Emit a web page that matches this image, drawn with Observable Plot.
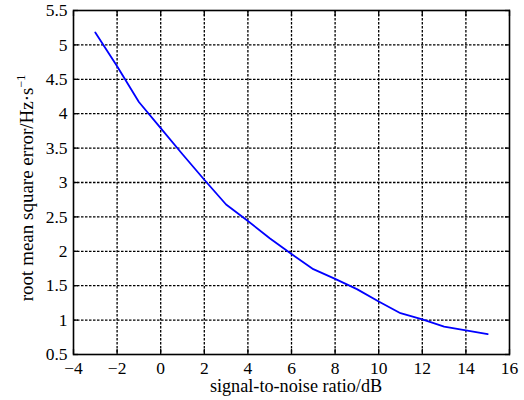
<!DOCTYPE html>
<html>
<head>
<meta charset="utf-8">
<script src="https://cdn.jsdelivr.net/npm/d3@7"></script>
<script src="https://cdn.jsdelivr.net/npm/@observablehq/plot@0.6"></script>
<style>
  html, body { margin: 0; padding: 0; background: #fff; }
  #chart svg { display: block; }
</style>
</head>
<body>
<div id="chart"></div>
<script>
// RMSE of frequency estimate versus signal-to-noise ratio
const snrDb = [-3, -2, -1, 0, 1, 2, 3, 4, 5, 6, 7, 8, 9, 10, 11, 12, 13, 14, 15];
const rmse = [5.18, 4.69, 4.17, 3.79, 3.41, 3.04, 2.68, 2.44, 2.19, 1.96, 1.74, 1.60, 1.45, 1.27, 1.10, 1.01, 0.905, 0.85, 0.795];

const xTicks = [-4, -2, 0, 2, 4, 6, 8, 10, 12, 14, 16];
const yTicks = [0.5, 1, 1.5, 2, 2.5, 3, 3.5, 4, 4.5, 5, 5.5];
const xLabel = "signal-to-noise ratio/dB";
const yLabel = "root mean square error/Hz\u00b7s";
const yLabelSup = "\u22121";

const data = snrDb.map((x, i) => ({x, y: rmse[i]}));
const fmtX = d => d < 0 ? "\u2212" + Math.abs(d) : String(d);

const xInner = xTicks.slice(1, -1);
const yInner = yTicks.slice(1, -1);
const dotted = {stroke: "black", strokeWidth: 1.3, strokeDasharray: "2.5,1.5"};
const serif = "'Liberation Serif', 'Times New Roman', serif";

const chart = Plot.plot({
  width: 524,
  height: 400,
  marginLeft: 73,
  marginRight: 15,
  marginTop: 10,
  marginBottom: 46,
  style: {fontFamily: serif, fontSize: "17.5px", color: "black", background: "white"},
  x: {domain: [-4, 16]},
  y: {domain: [0.5, 5.5]},
  marks: [
    Plot.ruleX(xInner, dotted),
    Plot.ruleY(yInner, dotted),
    Plot.axisX(xTicks, {anchor: "bottom", tickSize: -5, tickPadding: 12, tickFormat: fmtX, label: null, fontSize: 17.5, strokeWidth: 1.3}),
    Plot.axisX(xTicks, {anchor: "top", tickSize: -5, fill: "none", label: null, strokeWidth: 1.3}),
    Plot.axisY(yTicks, {anchor: "left", tickSize: -5, tickPadding: 11, tickFormat: d => String(d), label: null, fontSize: 17.5, strokeWidth: 1.3}),
    Plot.axisY(yTicks, {anchor: "right", tickSize: -5, fill: "none", label: null, strokeWidth: 1.3}),
    Plot.frame({stroke: "black", strokeWidth: 1.6}),
    Plot.line(data, {x: "x", y: "y", stroke: "#0000ff", strokeWidth: 1.8})
  ]
});

const svg = d3.select(chart);
// x-axis title
svg.append("text")
  .attr("x", 296)
  .attr("y", 392)
  .attr("text-anchor", "middle")
  .attr("font-family", serif)
  .attr("font-size", 18.2)
  .attr("fill", "black")
  .text(xLabel);
// y-axis title with superscript
const yt = svg.append("text")
  .attr("transform", "translate(33,188) rotate(-90)")
  .attr("text-anchor", "middle")
  .attr("font-family", serif)
  .attr("font-size", 19)
  .attr("fill", "black");
yt.append("tspan").text(yLabel);
yt.append("tspan").attr("dy", -8).attr("font-size", 12).text(yLabelSup);

document.getElementById("chart").appendChild(chart);
</script>
</body>
</html>
